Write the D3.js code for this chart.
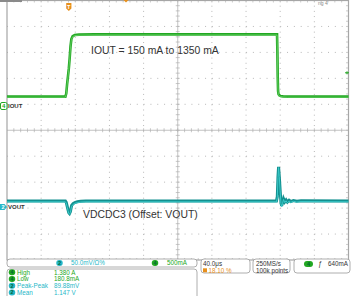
<!DOCTYPE html>
<html><head><meta charset="utf-8">
<script src="https://cdn.jsdelivr.net/npm/d3@7"></script>
<style>body{margin:0;background:#fff}svg{display:block}text{font-family:"Liberation Sans",Arial,sans-serif}</style>
</head><body><svg id="c" width="352" height="296"></svg>
<script>
// ---- data (time in µs relative to trigger) ----
const ioutT  = [-72.4,-4,-3,-2,-1,0,1,2,3,4.5,7,12,30,243.9,244.3,244.7,245.1,245.6,246.5,248,251,256,327.6];
const ioutMa = [181,181,240,420,570,720,920,1150,1290,1345,1368,1376,1380,1380,1050,560,290,230,205,192,186,181,181];
const voutT  = [-72.4,-4,-3,-2,-1,0,0.8,1.8,3.3,5,7,10,14,20,243.2,244.2,245,245.7,246.5,247.5,248.5,249.3,250.3,251.5,253,254.5,256,258,260,263,267,272,327.6];
const voutMv = [11.5,11.5,9,2,-5,-11,-12.5,-9,3,6.5,8.5,10,11,11.5,11.5,20,58,77.5,60,33,8,2,8,16,10,13.5,9.5,13,10.5,12.5,11,12,11.5];
const measNames  = ["High","Low","Peak-Peak","Mean"];
const measValues = ["1.380 A","180.8mA","89.88mV","1.147 V"];
const measCh     = ["4","4","2","2"];
const ioutLabel = "IOUT = 150 mA to 1350 mA";
const voutLabel = "VDCDC3 (Offset: VOUT)";

const GREEN="#22a822", CYAN="#1aa6a6", CYANT="#27b8c8", ORANGE="#e8901c";
const svg = d3.select("#c");
const L=7, R=348.5, T=0.5, B=260;
const x = d3.scaleLinear().domain([-72.4,327.6]).range([L,R]);
const divX = (R-L)/10, divY = (B-T)/10;
const g4 = 106, g2 = 207;
const yI = d3.scaleLinear().domain([0,500]).range([g4, g4-divY]);
const yV = d3.scaleLinear().domain([0,50]).range([g2, g2-divY]);

// grid
const grid = svg.append("g");
for(let i=1;i<10;i++){
  const gx=L+i*divX, gy=T+i*divY;
  if(i===5){
    grid.append("line").attr("x1",gx).attr("x2",gx).attr("y1",T).attr("y2",B).attr("stroke","#b4b4b4").attr("stroke-width",0.8);
    grid.append("line").attr("x1",L).attr("x2",R).attr("y1",gy).attr("y2",gy).attr("stroke","#b4b4b4").attr("stroke-width",0.8);
  } else {
    grid.append("line").attr("x1",gx).attr("x2",gx).attr("y1",T).attr("y2",B).attr("stroke","#b8b8b8").attr("stroke-dasharray",`1 ${divY/5-1}`);
    grid.append("line").attr("x1",L).attr("x2",R).attr("y1",gy).attr("y2",gy).attr("stroke","#b8b8b8").attr("stroke-dasharray",`1 ${divX/5-1}`);
  }
}
const cx=L+5*divX, cy=T+5*divY;
for(let k=1;k<50;k++){
  const tx=L+k*divX/5, ty=T+k*divY/5;
  grid.append("line").attr("x1",tx).attr("x2",tx).attr("y1",cy-2).attr("y2",cy+2).attr("stroke","#b0b0b0").attr("stroke-width",0.7);
  grid.append("line").attr("x1",cx-2).attr("x2",cx+2).attr("y1",ty).attr("y2",ty).attr("stroke","#b0b0b0").attr("stroke-width",0.7);
  grid.append("line").attr("x1",tx).attr("x2",tx).attr("y1",T).attr("y2",T+2).attr("stroke","#b8b8b8").attr("stroke-width",0.7);
  grid.append("line").attr("x1",tx).attr("x2",tx).attr("y1",B-2).attr("y2",B).attr("stroke","#b8b8b8").attr("stroke-width",0.7);
  grid.append("line").attr("x1",R-2.5).attr("x2",R).attr("y1",ty).attr("y2",ty).attr("stroke","#b8b8b8").attr("stroke-width",0.7);
}
svg.append("rect").attr("x",L).attr("y",T).attr("width",R-L).attr("height",B-T).attr("fill","none").attr("stroke","#a6a6a6").attr("stroke-width",1.2);
svg.append("rect").attr("x",0).attr("y",0).attr("width",22).attr("height",2).attr("fill","#8a8a8a");
svg.append("text").attr("x",318).attr("y",5).attr("font-size",5).attr("fill","#888").text("ng 4");

// traces
const lineI = d3.line().x((d,i)=>x(ioutT[i])).y(d=>yI(d));
const lineV = d3.line().x((d,i)=>x(voutT[i])).y(d=>yV(d));
svg.append("path").attr("d",lineI(ioutMa)).attr("fill","none").attr("stroke",GREEN).attr("stroke-width",2.6);
svg.append("path").attr("d",lineI(ioutMa)).attr("fill","none").attr("stroke","#6fd46f").attr("stroke-width",0.8).attr("transform","translate(0,0.6)");
svg.append("path").attr("d",lineV(voutMv)).attr("fill","none").attr("stroke","#12908f").attr("stroke-width",3);
svg.append("path").attr("d",lineV(voutMv)).attr("fill","none").attr("stroke","#3ccaca").attr("stroke-width",1).attr("transform","translate(0,0.8)");

// annotations
svg.append("text").attr("x",91).attr("y",54).attr("font-size",10.4).attr("fill","#333").text(ioutLabel);
svg.append("text").attr("x",83).attr("y",218).attr("font-size",10.4).attr("fill","#333").text(voutLabel);

// channel markers
svg.append("rect").attr("x",0.5).attr("y",g4-3.5).attr("width",6.5).attr("height",7).attr("rx",1.5).attr("fill","#fff").attr("stroke",GREEN);
svg.append("text").attr("x",3.75).attr("y",g4+2.3).attr("text-anchor","middle").attr("font-size",6).attr("font-weight","bold").attr("fill",GREEN).text("4");
svg.append("text").attr("x",8).attr("y",g4+2.2).attr("font-size",6).attr("font-weight","bold").attr("fill","#333").text("IOUT");
svg.append("path").attr("d",`M0,${g2-3}H4.5L7,${g2}L4.5,${g2+3}H0Z`).attr("fill",CYANT);
svg.append("text").attr("x",3).attr("y",g2+2.2).attr("text-anchor","middle").attr("font-size",5.5).attr("font-weight","bold").attr("fill","#fff").text("2");
svg.append("text").attr("x",8).attr("y",g2+2.2).attr("font-size",6).attr("font-weight","bold").attr("fill","#333").text("VOUT");
const tx0 = x(0);
svg.append("path").attr("d",`M${tx0-2.6},3H${tx0+2.6}V8.5L${tx0},11L${tx0-2.6},8.5Z`).attr("fill",ORANGE);
svg.append("text").attr("x",tx0).attr("y",8.6).attr("text-anchor","middle").attr("font-size",5.5).attr("font-weight","bold").attr("fill","#fff").text("T");
svg.append("path").attr("d","M123.5,0H128.5L126,2.5Z").attr("fill",ORANGE);
const tl = yI(640);
svg.append("path").attr("d",`M345,${tl}H349M347,${tl-1.5}V${tl+1.5}`).attr("stroke",GREEN).attr("stroke-width",1);

// bottom readouts
function box(x0,y0,w,h){svg.append("rect").attr("x",x0).attr("y",y0).attr("width",w).attr("height",h).attr("rx",3).attr("fill","#fff").attr("stroke","#9a9a9a").attr("stroke-width",0.8);}
function badge(cxp,cyp,label,col,w){svg.append("rect").attr("x",cxp-w/2).attr("y",cyp-3).attr("width",w).attr("height",6).attr("rx",3).attr("fill",col);
  svg.append("text").attr("x",cxp).attr("y",cyp+2).attr("text-anchor","middle").attr("font-size",5.5).attr("font-weight","bold").attr("fill","#063").text(label);}
const fs=6.3;
box(7,259,190,8);
badge(59.5,263,"2",CYANT,6.5);
svg.append("text").attr("x",71).attr("y",265.2).attr("font-size",fs).attr("fill",CYANT).text("50.0mV/Ω%");
badge(155,263,"4",GREEN,6.5);
svg.append("text").attr("x",167).attr("y",265.2).attr("font-size",fs).attr("fill",GREEN).text("500mA");
box(7,269,190,32);
measNames.forEach((n,i)=>{
  const yy=272.3+i*6.7, col=measCh[i]==="4"?GREEN:CYANT;
  badge(12,yy,measCh[i],col,6.5);
  svg.append("text").attr("x",17).attr("y",yy+2.2).attr("font-size",fs).attr("fill",col).text(n);
  svg.append("text").attr("x",54).attr("y",yy+2.2).attr("font-size",fs).attr("fill",col).text(measValues[i]);
});
box(201,259,49,14);
svg.append("text").attr("x",203).attr("y",266).attr("font-size",fs).attr("fill","#333").text("40.0μs");
svg.append("rect").attr("x",203).attr("y",268.3).attr("width",4).attr("height",4).attr("fill",ORANGE);
svg.append("text").attr("x",208.5).attr("y",272.6).attr("font-size",fs).attr("fill",ORANGE).text("18.10 %");
box(253,259,37,14);
svg.append("text").attr("x",256).attr("y",266).attr("font-size",fs).attr("fill","#333").text("250MS/s");
svg.append("text").attr("x",256).attr("y",272.6).attr("font-size",fs).attr("fill","#333").text("100k points");
box(294,259,56,14);
badge(308.5,264,"4",GREEN,9);
svg.append("text").attr("x",318).attr("y",266.2).attr("font-size",fs+0.5).attr("font-style","italic").attr("fill","#333").text("ƒ");
svg.append("text").attr("x",328).attr("y",266).attr("font-size",fs).attr("fill","#333").text("640mA");
</script></body></html>
